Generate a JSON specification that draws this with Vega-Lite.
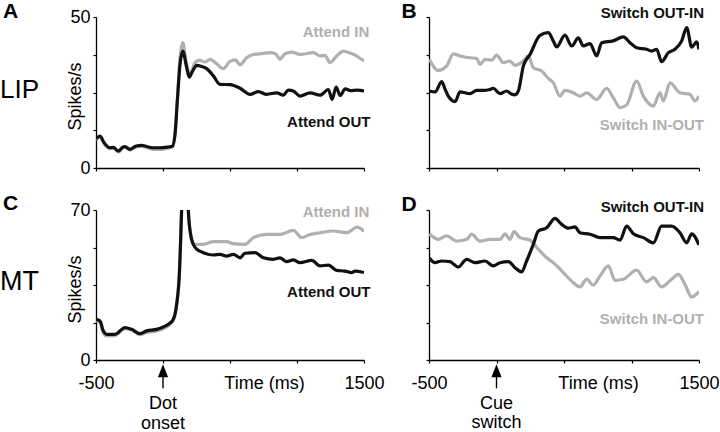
{
  "$schema": "https://vega.github.io/schema/vega-lite/v6.json",
  "background": "white",
  "padding": {"left": 0, "top": 0, "right": 0, "bottom": 0},
  "columns": 2,
  "spacing": {"row": 42, "column": 65},
  "bounds": "flush",
  "align": "each",
  "config": {
    "font": "Liberation Sans",
    "view": {"stroke": null},
    "axis": {
      "domainColor": "#000", "domainWidth": 1.3, "tickColor": "#000", "tickWidth": 1.2, "tickSize": 3,
      "grid": false, "labelFontSize": 18, "labelColor": "#000", "labelFont": "Liberation Sans",
      "titleFontSize": 18, "titleFontWeight": "normal", "titleColor": "#000", "titleFont": "Liberation Sans",
      "labelPadding": 3, "labelFlush": false, "labelOverlap": false
    }
  },
  "datasets": {
    "A": [
      {"t":-500,"v":9.3,"s":"Attend IN"},{"t":-470,"v":10.3,"s":"Attend IN"},{"t":-440,"v":8.0,"s":"Attend IN"},{"t":-396,"v":6.4,"s":"Attend IN"},{"t":-370,"v":6.5,"s":"Attend IN"},{"t":-333,"v":5.3,"s":"Attend IN"},{"t":-300,"v":6.6,"s":"Attend IN"},{"t":-284,"v":6.8,"s":"Attend IN"},{"t":-246,"v":5.9,"s":"Attend IN"},{"t":-200,"v":7.0,"s":"Attend IN"},{"t":-160,"v":7.2,"s":"Attend IN"},{"t":-122,"v":6.8,"s":"Attend IN"},{"t":-80,"v":6.2,"s":"Attend IN"},{"t":-20,"v":6.2,"s":"Attend IN"},{"t":30,"v":6.5,"s":"Attend IN"},{"t":70,"v":7.0,"s":"Attend IN"},{"t":90,"v":11.5,"s":"Attend IN"},{"t":107,"v":23.0,"s":"Attend IN"},{"t":127,"v":36.5,"s":"Attend IN"},{"t":147,"v":41.5,"s":"Attend IN"},{"t":172,"v":35.4,"s":"Attend IN"},{"t":201,"v":31.0,"s":"Attend IN"},{"t":239,"v":34.9,"s":"Attend IN"},{"t":271,"v":35.7,"s":"Attend IN"},{"t":313,"v":35.1,"s":"Attend IN"},{"t":351,"v":36.0,"s":"Attend IN"},{"t":400,"v":34.5,"s":"Attend IN"},{"t":450,"v":32.9,"s":"Attend IN"},{"t":500,"v":35.3,"s":"Attend IN"},{"t":540,"v":35.8,"s":"Attend IN"},{"t":575,"v":34.2,"s":"Attend IN"},{"t":624,"v":36.5,"s":"Attend IN"},{"t":674,"v":37.6,"s":"Attend IN"},{"t":740,"v":37.9,"s":"Attend IN"},{"t":799,"v":38.2,"s":"Attend IN"},{"t":840,"v":37.8,"s":"Attend IN"},{"t":873,"v":36.0,"s":"Attend IN"},{"t":910,"v":37.8,"s":"Attend IN"},{"t":960,"v":38.4,"s":"Attend IN"},{"t":1022,"v":37.6,"s":"Attend IN"},{"t":1122,"v":38.2,"s":"Attend IN"},{"t":1172,"v":37.1,"s":"Attend IN"},{"t":1209,"v":37.3,"s":"Attend IN"},{"t":1246,"v":34.9,"s":"Attend IN"},{"t":1296,"v":37.1,"s":"Attend IN"},{"t":1346,"v":38.7,"s":"Attend IN"},{"t":1400,"v":38.0,"s":"Attend IN"},{"t":1450,"v":37.0,"s":"Attend IN"},{"t":1500,"v":35.4,"s":"Attend IN"},
      {"t":-500,"v":9.6,"s":"Attend OUT"},{"t":-470,"v":10.6,"s":"Attend OUT"},{"t":-440,"v":8.4,"s":"Attend OUT"},{"t":-396,"v":6.7,"s":"Attend OUT"},{"t":-370,"v":6.8,"s":"Attend OUT"},{"t":-333,"v":5.6,"s":"Attend OUT"},{"t":-300,"v":6.9,"s":"Attend OUT"},{"t":-284,"v":7.1,"s":"Attend OUT"},{"t":-246,"v":6.2,"s":"Attend OUT"},{"t":-200,"v":7.3,"s":"Attend OUT"},{"t":-160,"v":7.5,"s":"Attend OUT"},{"t":-122,"v":7.1,"s":"Attend OUT"},{"t":-80,"v":6.7,"s":"Attend OUT"},{"t":-20,"v":6.7,"s":"Attend OUT"},{"t":30,"v":6.9,"s":"Attend OUT"},{"t":70,"v":7.2,"s":"Attend OUT"},{"t":90,"v":11.2,"s":"Attend OUT"},{"t":107,"v":22.2,"s":"Attend OUT"},{"t":127,"v":34.3,"s":"Attend OUT"},{"t":147,"v":38.7,"s":"Attend OUT"},{"t":177,"v":33.2,"s":"Attend OUT"},{"t":196,"v":30.1,"s":"Attend OUT"},{"t":221,"v":32.1,"s":"Attend OUT"},{"t":251,"v":34.0,"s":"Attend OUT"},{"t":290,"v":33.6,"s":"Attend OUT"},{"t":326,"v":32.9,"s":"Attend OUT"},{"t":376,"v":30.5,"s":"Attend OUT"},{"t":425,"v":27.7,"s":"Attend OUT"},{"t":500,"v":27.6,"s":"Attend OUT"},{"t":575,"v":26.4,"s":"Attend OUT"},{"t":649,"v":24.4,"s":"Attend OUT"},{"t":711,"v":25.3,"s":"Attend OUT"},{"t":774,"v":24.4,"s":"Attend OUT"},{"t":848,"v":24.9,"s":"Attend OUT"},{"t":898,"v":24.1,"s":"Attend OUT"},{"t":935,"v":25.8,"s":"Attend OUT"},{"t":973,"v":25.5,"s":"Attend OUT"},{"t":1022,"v":23.8,"s":"Attend OUT"},{"t":1097,"v":24.9,"s":"Attend OUT"},{"t":1172,"v":24.1,"s":"Attend OUT"},{"t":1234,"v":26.0,"s":"Attend OUT"},{"t":1262,"v":22.7,"s":"Attend OUT"},{"t":1292,"v":26.8,"s":"Attend OUT"},{"t":1322,"v":24.0,"s":"Attend OUT"},{"t":1360,"v":26.2,"s":"Attend OUT"},{"t":1400,"v":25.6,"s":"Attend OUT"},{"t":1450,"v":25.8,"s":"Attend OUT"},{"t":1500,"v":25.5,"s":"Attend OUT"}
    ],
    "B": [
      {"t":-498,"v":36.0,"s":"Switch IN-OUT"},{"t":-431,"v":32.3,"s":"Switch IN-OUT"},{"t":-369,"v":33.8,"s":"Switch IN-OUT"},{"t":-320,"v":37.8,"s":"Switch IN-OUT"},{"t":-270,"v":37.1,"s":"Switch IN-OUT"},{"t":-196,"v":36.5,"s":"Switch IN-OUT"},{"t":-147,"v":36.3,"s":"Switch IN-OUT"},{"t":-122,"v":34.3,"s":"Switch IN-OUT"},{"t":-85,"v":36.0,"s":"Switch IN-OUT"},{"t":-36,"v":35.7,"s":"Switch IN-OUT"},{"t":1,"v":37.4,"s":"Switch IN-OUT"},{"t":51,"v":34.9,"s":"Switch IN-OUT"},{"t":100,"v":35.4,"s":"Switch IN-OUT"},{"t":137,"v":34.0,"s":"Switch IN-OUT"},{"t":199,"v":35.4,"s":"Switch IN-OUT"},{"t":236,"v":37.1,"s":"Switch IN-OUT"},{"t":273,"v":33.2,"s":"Switch IN-OUT"},{"t":335,"v":32.1,"s":"Switch IN-OUT"},{"t":384,"v":29.7,"s":"Switch IN-OUT"},{"t":421,"v":28.2,"s":"Switch IN-OUT"},{"t":470,"v":23.8,"s":"Switch IN-OUT"},{"t":507,"v":25.7,"s":"Switch IN-OUT"},{"t":569,"v":24.9,"s":"Switch IN-OUT"},{"t":618,"v":23.8,"s":"Switch IN-OUT"},{"t":668,"v":24.9,"s":"Switch IN-OUT"},{"t":742,"v":22.7,"s":"Switch IN-OUT"},{"t":816,"v":26.4,"s":"Switch IN-OUT"},{"t":865,"v":23.3,"s":"Switch IN-OUT"},{"t":915,"v":20.0,"s":"Switch IN-OUT"},{"t":964,"v":20.9,"s":"Switch IN-OUT"},{"t":1038,"v":28.8,"s":"Switch IN-OUT"},{"t":1088,"v":23.8,"s":"Switch IN-OUT"},{"t":1162,"v":20.5,"s":"Switch IN-OUT"},{"t":1211,"v":24.9,"s":"Switch IN-OUT"},{"t":1236,"v":22.2,"s":"Switch IN-OUT"},{"t":1285,"v":28.2,"s":"Switch IN-OUT"},{"t":1359,"v":24.9,"s":"Switch IN-OUT"},{"t":1433,"v":24.4,"s":"Switch IN-OUT"},{"t":1470,"v":22.2,"s":"Switch IN-OUT"},{"t":1500,"v":23.8,"s":"Switch IN-OUT"},
      {"t":-498,"v":25.5,"s":"Switch OUT-IN"},{"t":-455,"v":25.2,"s":"Switch OUT-IN"},{"t":-406,"v":28.6,"s":"Switch OUT-IN"},{"t":-380,"v":26.0,"s":"Switch OUT-IN"},{"t":-357,"v":23.8,"s":"Switch OUT-IN"},{"t":-307,"v":22.0,"s":"Switch OUT-IN"},{"t":-270,"v":25.2,"s":"Switch OUT-IN"},{"t":-196,"v":24.6,"s":"Switch OUT-IN"},{"t":-147,"v":25.7,"s":"Switch OUT-IN"},{"t":-98,"v":25.7,"s":"Switch OUT-IN"},{"t":-50,"v":26.0,"s":"Switch OUT-IN"},{"t":-24,"v":26.4,"s":"Switch OUT-IN"},{"t":26,"v":24.6,"s":"Switch OUT-IN"},{"t":75,"v":25.5,"s":"Switch OUT-IN"},{"t":110,"v":24.5,"s":"Switch OUT-IN"},{"t":137,"v":24.2,"s":"Switch OUT-IN"},{"t":162,"v":25.5,"s":"Switch OUT-IN"},{"t":199,"v":33.8,"s":"Switch OUT-IN"},{"t":248,"v":37.6,"s":"Switch OUT-IN"},{"t":322,"v":43.9,"s":"Switch OUT-IN"},{"t":384,"v":44.8,"s":"Switch OUT-IN"},{"t":421,"v":42.0,"s":"Switch OUT-IN"},{"t":446,"v":40.1,"s":"Switch OUT-IN"},{"t":507,"v":44.0,"s":"Switch OUT-IN"},{"t":557,"v":40.4,"s":"Switch OUT-IN"},{"t":606,"v":43.1,"s":"Switch OUT-IN"},{"t":643,"v":40.4,"s":"Switch OUT-IN"},{"t":693,"v":41.2,"s":"Switch OUT-IN"},{"t":742,"v":37.1,"s":"Switch OUT-IN"},{"t":779,"v":41.5,"s":"Switch OUT-IN"},{"t":865,"v":42.1,"s":"Switch OUT-IN"},{"t":940,"v":43.4,"s":"Switch OUT-IN"},{"t":989,"v":41.5,"s":"Switch OUT-IN"},{"t":1038,"v":39.8,"s":"Switch OUT-IN"},{"t":1112,"v":39.3,"s":"Switch OUT-IN"},{"t":1150,"v":38.7,"s":"Switch OUT-IN"},{"t":1186,"v":39.3,"s":"Switch OUT-IN"},{"t":1223,"v":35.2,"s":"Switch OUT-IN"},{"t":1273,"v":38.2,"s":"Switch OUT-IN"},{"t":1322,"v":39.3,"s":"Switch OUT-IN"},{"t":1372,"v":42.1,"s":"Switch OUT-IN"},{"t":1409,"v":46.5,"s":"Switch OUT-IN"},{"t":1446,"v":40.0,"s":"Switch OUT-IN"},{"t":1483,"v":41.8,"s":"Switch OUT-IN"},{"t":1500,"v":39.3,"s":"Switch OUT-IN"}
    ],
    "C": [
      {"t":-500,"v":18.5,"s":"Attend IN"},{"t":-470,"v":17.5,"s":"Attend IN"},{"t":-445,"v":12.5,"s":"Attend IN"},{"t":-420,"v":11.2,"s":"Attend IN"},{"t":-358,"v":11.5,"s":"Attend IN"},{"t":-284,"v":14.6,"s":"Attend IN"},{"t":-234,"v":14.0,"s":"Attend IN"},{"t":-172,"v":11.8,"s":"Attend IN"},{"t":-122,"v":12.8,"s":"Attend IN"},{"t":-47,"v":13.6,"s":"Attend IN"},{"t":2,"v":14.6,"s":"Attend IN"},{"t":40,"v":16.0,"s":"Attend IN"},{"t":77,"v":18.5,"s":"Attend IN"},{"t":102,"v":26.0,"s":"Attend IN"},{"t":122,"v":40.0,"s":"Attend IN"},{"t":140,"v":72.0,"s":"Attend IN"},{"t":155,"v":100.0,"s":"Attend IN"},{"t":175,"v":100.0,"s":"Attend IN"},{"t":189,"v":70.0,"s":"Attend IN"},{"t":205,"v":59.0,"s":"Attend IN"},{"t":226,"v":54.0,"s":"Attend IN"},{"t":251,"v":54.0,"s":"Attend IN"},{"t":301,"v":54.0,"s":"Attend IN"},{"t":375,"v":55.2,"s":"Attend IN"},{"t":475,"v":55.2,"s":"Attend IN"},{"t":525,"v":54.3,"s":"Attend IN"},{"t":612,"v":54.0,"s":"Attend IN"},{"t":674,"v":57.1,"s":"Attend IN"},{"t":774,"v":58.6,"s":"Attend IN"},{"t":873,"v":58.6,"s":"Attend IN"},{"t":973,"v":60.5,"s":"Attend IN"},{"t":1035,"v":57.1,"s":"Attend IN"},{"t":1097,"v":58.6,"s":"Attend IN"},{"t":1172,"v":59.4,"s":"Attend IN"},{"t":1271,"v":60.2,"s":"Attend IN"},{"t":1371,"v":59.4,"s":"Attend IN"},{"t":1450,"v":62.0,"s":"Attend IN"},{"t":1500,"v":60.0,"s":"Attend IN"},
      {"t":-500,"v":19.0,"s":"Attend OUT"},{"t":-470,"v":18.2,"s":"Attend OUT"},{"t":-445,"v":13.5,"s":"Attend OUT"},{"t":-420,"v":12.0,"s":"Attend OUT"},{"t":-358,"v":12.0,"s":"Attend OUT"},{"t":-284,"v":15.1,"s":"Attend OUT"},{"t":-234,"v":14.3,"s":"Attend OUT"},{"t":-172,"v":12.3,"s":"Attend OUT"},{"t":-122,"v":13.6,"s":"Attend OUT"},{"t":-47,"v":14.3,"s":"Attend OUT"},{"t":2,"v":15.4,"s":"Attend OUT"},{"t":40,"v":16.7,"s":"Attend OUT"},{"t":77,"v":19.0,"s":"Attend OUT"},{"t":102,"v":26.0,"s":"Attend OUT"},{"t":122,"v":40.0,"s":"Attend OUT"},{"t":140,"v":72.0,"s":"Attend OUT"},{"t":155,"v":100.0,"s":"Attend OUT"},{"t":175,"v":100.0,"s":"Attend OUT"},{"t":189,"v":70.0,"s":"Attend OUT"},{"t":205,"v":59.0,"s":"Attend OUT"},{"t":226,"v":54.0,"s":"Attend OUT"},{"t":251,"v":51.7,"s":"Attend OUT"},{"t":301,"v":50.1,"s":"Attend OUT"},{"t":375,"v":49.0,"s":"Attend OUT"},{"t":425,"v":49.3,"s":"Attend OUT"},{"t":475,"v":48.5,"s":"Attend OUT"},{"t":525,"v":49.3,"s":"Attend OUT"},{"t":575,"v":47.7,"s":"Attend OUT"},{"t":612,"v":49.8,"s":"Attend OUT"},{"t":687,"v":50.1,"s":"Attend OUT"},{"t":749,"v":47.7,"s":"Attend OUT"},{"t":823,"v":47.0,"s":"Attend OUT"},{"t":873,"v":47.7,"s":"Attend OUT"},{"t":923,"v":45.9,"s":"Attend OUT"},{"t":973,"v":46.7,"s":"Attend OUT"},{"t":1022,"v":45.4,"s":"Attend OUT"},{"t":1110,"v":46.5,"s":"Attend OUT"},{"t":1172,"v":43.9,"s":"Attend OUT"},{"t":1234,"v":44.3,"s":"Attend OUT"},{"t":1296,"v":41.8,"s":"Attend OUT"},{"t":1358,"v":41.5,"s":"Attend OUT"},{"t":1408,"v":40.8,"s":"Attend OUT"},{"t":1433,"v":41.5,"s":"Attend OUT"},{"t":1500,"v":40.8,"s":"Attend OUT"}
    ],
    "D": [
      {"t":-498,"v":58.9,"s":"Switch IN-OUT"},{"t":-431,"v":56.3,"s":"Switch IN-OUT"},{"t":-369,"v":57.9,"s":"Switch IN-OUT"},{"t":-295,"v":55.5,"s":"Switch IN-OUT"},{"t":-221,"v":56.3,"s":"Switch IN-OUT"},{"t":-184,"v":58.7,"s":"Switch IN-OUT"},{"t":-122,"v":55.5,"s":"Switch IN-OUT"},{"t":-48,"v":56.3,"s":"Switch IN-OUT"},{"t":26,"v":56.3,"s":"Switch IN-OUT"},{"t":63,"v":58.9,"s":"Switch IN-OUT"},{"t":100,"v":56.3,"s":"Switch IN-OUT"},{"t":130,"v":59.9,"s":"Switch IN-OUT"},{"t":174,"v":57.1,"s":"Switch IN-OUT"},{"t":248,"v":55.9,"s":"Switch IN-OUT"},{"t":310,"v":51.7,"s":"Switch IN-OUT"},{"t":372,"v":47.7,"s":"Switch IN-OUT"},{"t":421,"v":45.4,"s":"Switch IN-OUT"},{"t":495,"v":40.8,"s":"Switch IN-OUT"},{"t":569,"v":36.1,"s":"Switch IN-OUT"},{"t":618,"v":34.1,"s":"Switch IN-OUT"},{"t":668,"v":37.7,"s":"Switch IN-OUT"},{"t":717,"v":35.0,"s":"Switch IN-OUT"},{"t":767,"v":39.2,"s":"Switch IN-OUT"},{"t":828,"v":43.9,"s":"Switch IN-OUT"},{"t":878,"v":37.2,"s":"Switch IN-OUT"},{"t":939,"v":37.7,"s":"Switch IN-OUT"},{"t":1038,"v":41.9,"s":"Switch IN-OUT"},{"t":1112,"v":36.5,"s":"Switch IN-OUT"},{"t":1162,"v":38.4,"s":"Switch IN-OUT"},{"t":1223,"v":34.1,"s":"Switch IN-OUT"},{"t":1297,"v":37.7,"s":"Switch IN-OUT"},{"t":1347,"v":40.0,"s":"Switch IN-OUT"},{"t":1396,"v":35.3,"s":"Switch IN-OUT"},{"t":1446,"v":29.4,"s":"Switch IN-OUT"},{"t":1500,"v":31.9,"s":"Switch IN-OUT"},
      {"t":-498,"v":47.7,"s":"Switch OUT-IN"},{"t":-456,"v":45.4,"s":"Switch OUT-IN"},{"t":-406,"v":46.2,"s":"Switch OUT-IN"},{"t":-344,"v":45.9,"s":"Switch OUT-IN"},{"t":-283,"v":43.4,"s":"Switch OUT-IN"},{"t":-221,"v":47.0,"s":"Switch OUT-IN"},{"t":-159,"v":45.4,"s":"Switch OUT-IN"},{"t":-85,"v":46.2,"s":"Switch OUT-IN"},{"t":-24,"v":43.9,"s":"Switch OUT-IN"},{"t":26,"v":45.4,"s":"Switch OUT-IN"},{"t":88,"v":45.9,"s":"Switch OUT-IN"},{"t":137,"v":43.1,"s":"Switch OUT-IN"},{"t":186,"v":41.1,"s":"Switch OUT-IN"},{"t":223,"v":46.2,"s":"Switch OUT-IN"},{"t":273,"v":54.0,"s":"Switch OUT-IN"},{"t":310,"v":60.2,"s":"Switch OUT-IN"},{"t":372,"v":61.7,"s":"Switch OUT-IN"},{"t":433,"v":66.1,"s":"Switch OUT-IN"},{"t":483,"v":63.3,"s":"Switch OUT-IN"},{"t":532,"v":61.5,"s":"Switch OUT-IN"},{"t":581,"v":62.1,"s":"Switch OUT-IN"},{"t":618,"v":59.4,"s":"Switch OUT-IN"},{"t":693,"v":58.7,"s":"Switch OUT-IN"},{"t":767,"v":57.1,"s":"Switch OUT-IN"},{"t":865,"v":57.1,"s":"Switch OUT-IN"},{"t":915,"v":55.9,"s":"Switch OUT-IN"},{"t":964,"v":62.5,"s":"Switch OUT-IN"},{"t":1014,"v":58.9,"s":"Switch OUT-IN"},{"t":1088,"v":57.1,"s":"Switch OUT-IN"},{"t":1162,"v":54.7,"s":"Switch OUT-IN"},{"t":1223,"v":62.5,"s":"Switch OUT-IN"},{"t":1297,"v":62.5,"s":"Switch OUT-IN"},{"t":1359,"v":59.4,"s":"Switch OUT-IN"},{"t":1409,"v":54.7,"s":"Switch OUT-IN"},{"t":1446,"v":58.9,"s":"Switch OUT-IN"},{"t":1500,"v":53.7,"s":"Switch OUT-IN"}
    ]
  },
  "concat": [
    {
      "width": 268, "height": 151,
      "encoding": {
        "x": {"field": "t", "type": "quantitative", "scale": {"domain": [-500, 1500], "nice": false, "zero": false},
              "axis": {"values": [-500, 0, 500, 1000, 1500], "labels": false, "title": null}},
        "y": {"field": "v", "type": "quantitative", "scale": {"domain": [0, 50], "nice": false, "zero": false},
              "axis": {"values": [0, 12.5, 25, 37.5, 50], "labelExpr": "datum.value == 0 ? '0' : datum.value == 50 ? '50' : ''",
                       "title": "Spikes/s", "titleX": -16, "titleY": 79, "titleAngle": -90, "titleAlign": "center", "titleBaseline": "alphabetic"}}
      },
      "layer": [
        {"data": {"name": "A"}, "mark": {"type": "line", "strokeWidth": 3.2, "interpolate": "monotone", "clip": true, "strokeJoin": "round"},
         "encoding": {"color": {"field": "s", "type": "nominal", "legend": null,
           "scale": {"domain": ["Attend IN", "Attend OUT", "Switch OUT-IN", "Switch IN-OUT"], "range": ["#b0b0b0", "#111111", "#111111", "#b0b0b0"]}}}},
        {"data": {"values": [{"t": 1540, "v": 43.4, "label": "Attend IN", "s": "Attend IN"}, {"t": 1548, "v": 13.6, "label": "Attend OUT", "s": "Attend OUT"}]},
         "mark": {"type": "text", "align": "right", "baseline": "alphabetic", "fontSize": 15, "fontWeight": "bold"},
         "encoding": {"text": {"field": "label"}, "color": {"field": "s", "type": "nominal", "legend": null,
           "scale": {"domain": ["Attend IN", "Attend OUT", "Switch OUT-IN", "Switch IN-OUT"], "range": ["#a8a8a8", "#111111", "#111111", "#a8a8a8"]}}}},
        {"data": {"values": [{"t": -1194, "v": 49.7, "label": "A"}]},
         "mark": {"type": "text", "align": "left", "baseline": "alphabetic", "color": "#000", "fontSize": 21, "fontWeight": "bold"},
         "encoding": {"text": {"field": "label"}}},
        {"data": {"values": [{"t": -1216, "v": 23.2, "label": "LIP"}]},
         "mark": {"type": "text", "align": "left", "baseline": "alphabetic", "color": "#000", "fontSize": 26},
         "encoding": {"text": {"field": "label"}}}
      ]
    },
    {
      "width": 270, "height": 151,
      "encoding": {
        "x": {"field": "t", "type": "quantitative", "scale": {"domain": [-500, 1500], "nice": false, "zero": false},
              "axis": {"values": [-500, 0, 500, 1000, 1500], "labels": false, "title": null}},
        "y": {"field": "v", "type": "quantitative", "scale": {"domain": [0, 50], "nice": false, "zero": false},
              "axis": {"values": [0, 12.5, 25, 37.5, 50], "labels": false, "title": null}}
      },
      "layer": [
        {"data": {"name": "B"}, "mark": {"type": "line", "strokeWidth": 3.2, "interpolate": "monotone", "clip": true, "strokeJoin": "round"},
         "encoding": {"color": {"field": "s", "type": "nominal", "legend": null,
           "scale": {"domain": ["Attend IN", "Attend OUT", "Switch OUT-IN", "Switch IN-OUT"], "range": ["#b0b0b0", "#111111", "#111111", "#b0b0b0"]}}}},
        {"data": {"values": [{"t": 1537, "v": 49.7, "label": "Switch OUT-IN", "s": "Switch OUT-IN"}, {"t": 1537, "v": 12.6, "label": "Switch IN-OUT", "s": "Switch IN-OUT"}]},
         "mark": {"type": "text", "align": "right", "baseline": "alphabetic", "fontSize": 15, "fontWeight": "bold"},
         "encoding": {"text": {"field": "label"}, "color": {"field": "s", "type": "nominal", "legend": null,
           "scale": {"domain": ["Attend IN", "Attend OUT", "Switch OUT-IN", "Switch IN-OUT"], "range": ["#a8a8a8", "#111111", "#111111", "#a8a8a8"]}}}},
        {"data": {"values": [{"t": -704, "v": 49.7, "label": "B"}]},
         "mark": {"type": "text", "align": "left", "baseline": "alphabetic", "color": "#000", "fontSize": 21, "fontWeight": "bold"},
         "encoding": {"text": {"field": "label"}}}
      ]
    },
    {
      "width": 268, "height": 150,
      "encoding": {
        "x": {"field": "t", "type": "quantitative", "scale": {"domain": [-500, 1500], "nice": false, "zero": false},
              "axis": {"values": [-500, 0, 500, 1000, 1500], "labelExpr": "datum.value == -500 ? '-500' : datum.value == 1500 ? '1500' : ''",
                       "labelBaseline": "alphabetic", "labelPadding": 25,
                       "title": "Time (ms)", "titleX": 168, "titleY": 28, "titleAlign": "center", "titleBaseline": "alphabetic"}},
        "y": {"field": "v", "type": "quantitative", "scale": {"domain": [0, 70], "nice": false, "zero": false},
              "axis": {"values": [0, 17.5, 35, 52.5, 70], "labelExpr": "datum.value == 0 ? '0' : datum.value == 70 ? '70' : ''",
                       "title": "Spikes/s", "titleX": -16, "titleY": 79, "titleAngle": -90, "titleAlign": "center", "titleBaseline": "alphabetic"}}
      },
      "layer": [
        {"data": {"name": "C"}, "mark": {"type": "line", "strokeWidth": 3.2, "interpolate": "monotone", "clip": true, "strokeJoin": "round"},
         "encoding": {"color": {"field": "s", "type": "nominal", "legend": null,
           "scale": {"domain": ["Attend IN", "Attend OUT", "Switch OUT-IN", "Switch IN-OUT"], "range": ["#b0b0b0", "#111111", "#111111", "#b0b0b0"]}}}},
        {"data": {"values": [{"t": 1540, "v": 66.7, "label": "Attend IN", "s": "Attend IN"}, {"t": 1548, "v": 29.4, "label": "Attend OUT", "s": "Attend OUT"}]},
         "mark": {"type": "text", "align": "right", "baseline": "alphabetic", "fontSize": 15, "fontWeight": "bold"},
         "encoding": {"text": {"field": "label"}, "color": {"field": "s", "type": "nominal", "legend": null,
           "scale": {"domain": ["Attend IN", "Attend OUT", "Switch OUT-IN", "Switch IN-OUT"], "range": ["#a8a8a8", "#111111", "#111111", "#a8a8a8"]}}}},
        {"data": {"values": [{"t": -1194, "v": 69.8, "label": "C"}]},
         "mark": {"type": "text", "align": "left", "baseline": "alphabetic", "color": "#000", "fontSize": 21, "fontWeight": "bold"},
         "encoding": {"text": {"field": "label"}}},
        {"data": {"values": [{"t": -1216, "v": 32.7, "label": "MT"}]},
         "mark": {"type": "text", "align": "left", "baseline": "alphabetic", "color": "#000", "fontSize": 27},
         "encoding": {"text": {"field": "label"}}},
        {"data": {"values": [{"t": 0, "v": -22.9, "label": "Dot"}, {"t": 0, "v": -32.2, "label": "onset"}]},
         "mark": {"type": "text", "align": "center", "baseline": "alphabetic", "color": "#000", "fontSize": 18},
         "encoding": {"text": {"field": "label"}}},
        {"data": {"values": [{"t": 0, "v": -7.0, "v2": -13.2}]},
         "mark": {"type": "rule", "color": "#000", "strokeWidth": 1.4},
         "encoding": {"y2": {"field": "v2"}}},
        {"data": {"values": [{"t": 0, "v": -5.0}]},
         "mark": {"type": "point", "shape": "M0,-1L0.78,1L-0.78,1Z", "filled": true, "color": "#000", "size": 170, "opacity": 1, "strokeWidth": 0},
         "encoding": {}}
      ]
    },
    {
      "width": 270, "height": 150,
      "encoding": {
        "x": {"field": "t", "type": "quantitative", "scale": {"domain": [-500, 1500], "nice": false, "zero": false},
              "axis": {"values": [-500, 0, 500, 1000, 1500], "labelExpr": "datum.value == -500 ? '-500' : datum.value == 1500 ? '1500' : ''",
                       "labelBaseline": "alphabetic", "labelPadding": 25,
                       "title": "Time (ms)", "titleX": 169, "titleY": 28, "titleAlign": "center", "titleBaseline": "alphabetic"}},
        "y": {"field": "v", "type": "quantitative", "scale": {"domain": [0, 70], "nice": false, "zero": false},
              "axis": {"values": [0, 17.5, 35, 52.5, 70], "labels": false, "title": null}}
      },
      "layer": [
        {"data": {"name": "D"}, "mark": {"type": "line", "strokeWidth": 3.2, "interpolate": "monotone", "clip": true, "strokeJoin": "round"},
         "encoding": {"color": {"field": "s", "type": "nominal", "legend": null,
           "scale": {"domain": ["Attend IN", "Attend OUT", "Switch OUT-IN", "Switch IN-OUT"], "range": ["#b0b0b0", "#111111", "#111111", "#b0b0b0"]}}}},
        {"data": {"values": [{"t": 1537, "v": 69.1, "label": "Switch OUT-IN", "s": "Switch OUT-IN"}, {"t": 1537, "v": 16.8, "label": "Switch IN-OUT", "s": "Switch IN-OUT"}]},
         "mark": {"type": "text", "align": "right", "baseline": "alphabetic", "fontSize": 15, "fontWeight": "bold"},
         "encoding": {"text": {"field": "label"}, "color": {"field": "s", "type": "nominal", "legend": null,
           "scale": {"domain": ["Attend IN", "Attend OUT", "Switch OUT-IN", "Switch IN-OUT"], "range": ["#a8a8a8", "#111111", "#111111", "#a8a8a8"]}}}},
        {"data": {"values": [{"t": -704, "v": 69.4, "label": "D"}]},
         "mark": {"type": "text", "align": "left", "baseline": "alphabetic", "color": "#000", "fontSize": 21, "fontWeight": "bold"},
         "encoding": {"text": {"field": "label"}}},
        {"data": {"values": [{"t": 0, "v": -22.9, "label": "Cue"}, {"t": 0, "v": -31.9, "label": "switch"}]},
         "mark": {"type": "text", "align": "center", "baseline": "alphabetic", "color": "#000", "fontSize": 18},
         "encoding": {"text": {"field": "label"}}},
        {"data": {"values": [{"t": 0, "v": -7.0, "v2": -13.2}]},
         "mark": {"type": "rule", "color": "#000", "strokeWidth": 1.4},
         "encoding": {"y2": {"field": "v2"}}},
        {"data": {"values": [{"t": 0, "v": -5.0}]},
         "mark": {"type": "point", "shape": "M0,-1L0.78,1L-0.78,1Z", "filled": true, "color": "#000", "size": 170, "opacity": 1, "strokeWidth": 0},
         "encoding": {}}
      ]
    }
  ]
}
